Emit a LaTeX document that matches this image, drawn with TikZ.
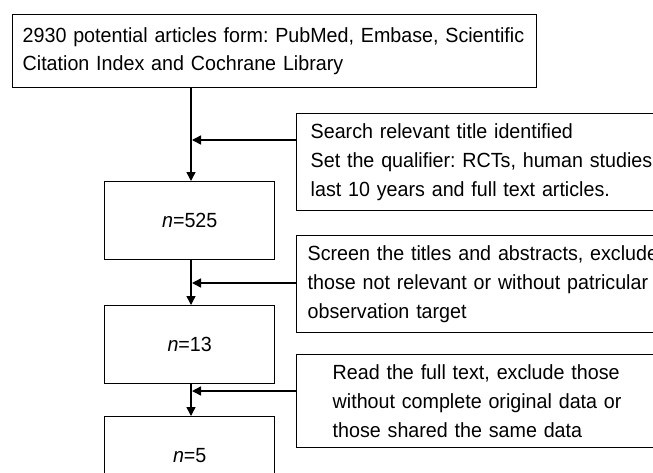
\documentclass[tikz,border=0pt]{standalone}
\usepackage{fontspec}
\setmainfont{Liberation Sans}[FakeStretch=0.96]
\usetikzlibrary{arrows.meta,calc}
\frenchspacing
\begin{document}
\begin{tikzpicture}[x=1pt,y=1pt,
  box/.style={draw=black, line width=1.4pt, anchor=north west, inner ysep=2pt,
    font=\fontsize{20.5pt}{28.8pt}\selectfont\frenchspacing},
  nbox/.style={box, minimum width=170pt, minimum height=78pt, align=center},
  sidebox/.style={box, align=left, text width=420pt},
  conn/.style={line width=1.4pt, -{Triangle[length=9pt,width=9pt]}},
]
\useasboundingbox (0,0) rectangle (653,-472);
\clip (0,0) rectangle (653,-472);
\fill[white] (0,0) rectangle (653,-472);

\node[box, text width=504pt, inner xsep=10pt, minimum height=73pt, align=left] (top) at (12,-14)
  {\mbox{2930 potential articles form: PubMed, Embase, Scientific}\\\mbox{Citation Index and Cochrane Library}};

\node[nbox] (n1) at (104,-181) {\textit{n}=525};
\node[nbox] (n2) at (104,-305) {\textit{n}=13};
\node[nbox] (n3) at (104,-416) {\textit{n}=5};

\node[sidebox, inner xsep=14pt, minimum height=97pt] (s1) at (296,-113)
  {Search relevant title identified\\Set the qualifier: RCTs, human studies,\\last 10 years and full text articles.};
\node[sidebox, inner xsep=11pt, minimum height=97pt] (s2) at (296,-235)
  {Screen the titles and abstracts, exclude\\those not relevant or without patricular\\observation target};
\node[sidebox, inner xsep=36pt, minimum height=93pt] (s3) at (296,-354)
  {Read the full text, exclude those\\without complete original data or\\those shared the same data};

\coordinate (vx) at (191,0);
\draw[conn] (top.south -| vx) -- (n1.north -| vx);
\draw[conn] (n1.south -| vx) -- (n2.north -| vx);
\draw[conn] (n2.south -| vx) -- (n3.north -| vx);

\coordinate (j1) at (192,-140);
\coordinate (j2) at (192,-283);
\coordinate (j3) at (192,-391);
\draw[conn] (s1.west |- j1) -- (j1);
\draw[conn] (s2.west |- j2) -- (j2);
\draw[conn] (s3.west |- j3) -- (j3);
\end{tikzpicture}
\end{document}
